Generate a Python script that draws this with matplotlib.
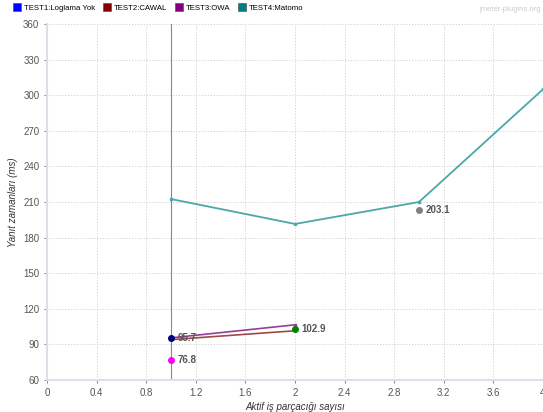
import matplotlib.pyplot as plt
from matplotlib.patches import Patch

plt.rcParams['font.family'] = ['Liberation Sans', 'DejaVu Sans']

# series data (x = active threads, y = response time ms)
test2_x = [1, 2]
test2_y = [94, 101.5]
test3_x = [1, 2]
test3_y = [95.5, 106.5]
test4_x = [1, 2, 3, 4]
test4_y = [212.5, 191.5, 210, 305]

# labelled single points
pt_x = [1, 1, 2, 3]
pt_y = [95.7, 76.8, 102.9, 203.1]
pt_colors = ['#000080', '#ff00ff', '#008000', '#808080']

legend_names = ['TEST1:Loglama Yok', 'TEST2:CAWAL', 'TEST3:OWA', 'TEST4:Matomo']
legend_colors = ['#0000ff', '#800000', '#800080', '#008080']

fig = plt.figure(figsize=(5.43, 4.12), dpi=100)
ax = fig.add_axes([0.0866, 0.0777, 0.9134, 0.864])

ax.plot(test2_x, test2_y, color='#a04848', lw=1.2, zorder=3)
ax.plot(test3_x, test3_y, color='#9a3a9a', lw=1.2, zorder=3)
ax.plot(test4_x, test4_y, color='#4aa8a8', lw=1.3, marker='s', ms=2, zorder=3)
ax.plot(test3_x[1:], test3_y[1:], 's', color='#9a3a9a', ms=2, zorder=3)

# vertical marker line at x=1
ax.axvline(1, color='#888888', lw=0.8, zorder=2)

for x, y, c in zip(pt_x, pt_y, pt_colors):
    ax.plot(x, y, 'o', color=c, ms=4, zorder=4)
    ax.text(x + 0.05, y, f'{y:.1f}', color='#555555', fontsize=7,
            fontweight='bold', va='center', ha='left', zorder=5)

ax.set_xlim(0, 4)
ax.set_ylim(60, 360)
ax.set_xticks([0, 0.4, 0.8, 1.2, 1.6, 2, 2.4, 2.8, 3.2, 3.6, 4])
ax.set_xticklabels(['0', '0.4', '0.8', '1.2', '1.6', '2', '2.4', '2.8', '3.2', '3.6', '4'])
ax.set_yticks(range(60, 361, 30))
ax.tick_params(labelsize=7, colors='#555555', length=2, width=0.5)
ax.grid(True, color='#cccccc', linestyle=(0, (1.5, 2)), lw=0.6)
for s in ax.spines.values():
    s.set_visible(False)
ax.spines['left'].set_visible(True)
ax.spines['bottom'].set_visible(True)
ax.spines['left'].set_color('#dde0ea')
ax.spines['bottom'].set_color('#dde0ea')
ax.spines['left'].set_linewidth(1.5)
ax.spines['bottom'].set_linewidth(1.5)

ax.set_xlabel('Aktif iş parçacığı sayısı', fontsize=7, style='italic', color='#333333', labelpad=3)
ax.set_ylabel('Yanıt zamanları (ms)', fontsize=7, style='italic', color='#333333', labelpad=4)

handles = [Patch(facecolor=c, edgecolor='#444444', lw=0.4) for c in legend_colors]
fig.legend(handles, legend_names, loc='upper left', bbox_to_anchor=(0.015, 1.003), ncol=4,
           frameon=False, fontsize=5.6, handlelength=1.1, handleheight=1.1,
           handletextpad=0.3, columnspacing=1.0, borderaxespad=0.2)
fig.text(0.995, 0.985, 'jmeter-plugins.org', fontsize=5.5, color='#cccccc', ha='right', va='top')

fig.savefig('out.png', dpi=100)
